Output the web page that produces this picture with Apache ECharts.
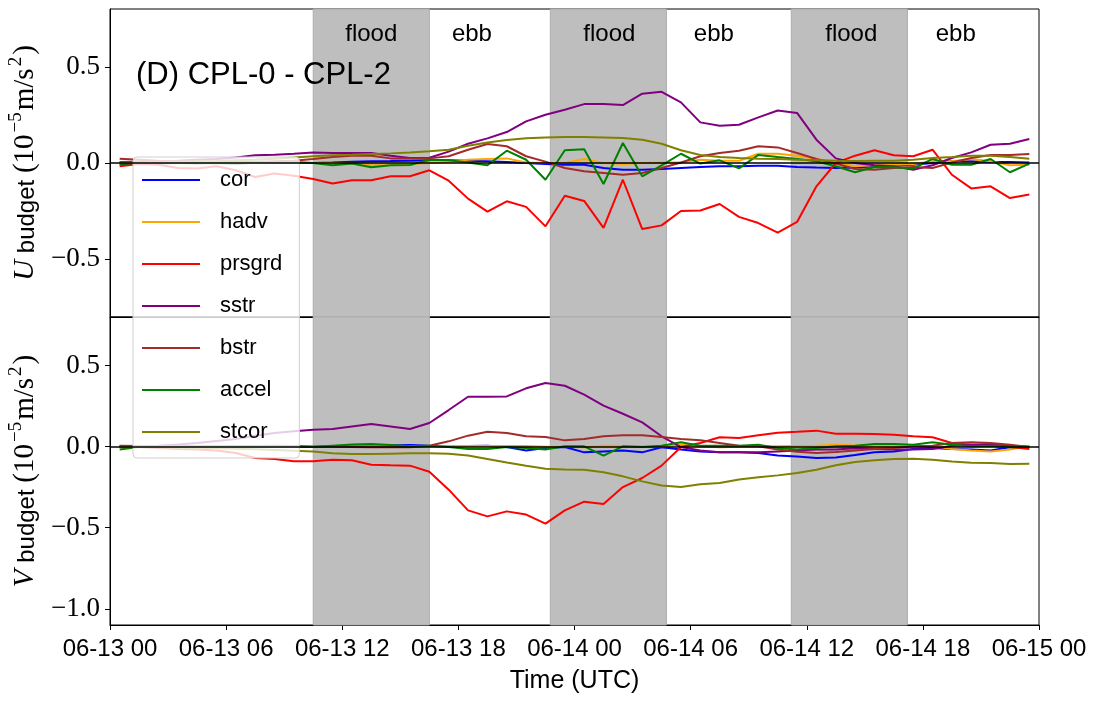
<!DOCTYPE html>
<html>
<head>
<meta charset="utf-8">
<script src="https://cdn.jsdelivr.net/npm/echarts@6.0.0/dist/echarts.min.js"></script>
<style>
  html, body { margin: 0; padding: 0; background: #fff; }
  #chart { width: 1096px; height: 703px; }
</style>
</head>
<body>
<div id="chart"></div>
<script>
// hourly means, hours after 06-13 00 UTC
const times = [0.5, 1.5, 2.5, 3.5, 4.5, 5.5, 6.5, 7.5, 8.5, 9.5, 10.5, 11.5,
  12.5, 13.5, 14.5, 15.5, 16.5, 17.5, 18.5, 19.5, 20.5, 21.5, 22.5, 23.5,
  24.5, 25.5, 26.5, 27.5, 28.5, 29.5, 30.5, 31.5, 32.5, 33.5, 34.5, 35.5,
  36.5, 37.5, 38.5, 39.5, 40.5, 41.5, 42.5, 43.5, 44.5, 45.5, 46.5, 47.5];

const names = ["cor", "hadv", "prsgrd", "sstr", "bstr", "accel", "stcor"];
const colors = ["#0000ff", "#ffa500", "#ff0000", "#800080", "#a52a2a", "#008000", "#808000"];

// U budget (top panel)
const corU = [-0.009,-0.003,-0.002,0,0,0,0,0,0.002,0.002,0.0,0.003,0.007,0.009,0.010,0.012,0.014,0.014,0.012,0.009,0.005,0.0,-0.005,-0.009,-0.009,-0.026,-0.035,-0.035,-0.031,-0.026,-0.021,-0.017,-0.017,-0.014,-0.014,-0.021,-0.024,-0.026,-0.023,-0.017,-0.012,-0.009,0.0,0.009,0.009,0.005,0.005,0.003];
const hadvU = [0.003,0.003,0.003,0.002,0.002,0.003,0.003,0.003,0.002,0.002,0.0,0.0,-0.003,-0.012,-0.010,-0.005,0.0,0.005,0.017,0.021,0.024,0.003,0.0,0.0,0.021,0.0,-0.005,0.0,0.003,0.003,0.017,0.012,0.012,0.048,0.048,0.038,0.021,0.0,-0.017,-0.012,-0.009,-0.005,0.009,0.009,0.021,0.009,-0.012,-0.009];
const prsgrdU = [-0.017,-0.005,-0.009,-0.026,-0.028,-0.017,-0.038,-0.073,-0.055,-0.066,-0.083,-0.107,-0.090,-0.090,-0.069,-0.069,-0.038,-0.092,-0.185,-0.253,-0.199,-0.228,-0.329,-0.170,-0.197,-0.337,-0.087,-0.343,-0.324,-0.249,-0.247,-0.213,-0.280,-0.312,-0.362,-0.306,-0.121,0.0,0.038,0.066,0.040,0.035,0.069,-0.061,-0.132,-0.121,-0.182,-0.164];
const sstrU = [0.005,0.007,0.009,0.012,0.017,0.021,0.029,0.040,0.043,0.048,0.055,0.052,0.052,0.052,0.038,0.026,0.027,0.059,0.100,0.128,0.161,0.216,0.251,0.277,0.306,0.306,0.301,0.360,0.370,0.315,0.211,0.194,0.199,0.237,0.273,0.260,0.121,0.024,0.0,-0.012,-0.017,-0.035,-0.012,0.026,0.055,0.095,0.100,0.125];
const bstrU = [0.022,0.017,0.012,0.009,0.007,0.005,0.005,0.005,0.009,0.012,0.021,0.031,0.038,0.038,0.024,0.024,0.024,0.035,0.069,0.099,0.087,0.035,0.007,-0.026,-0.043,-0.052,-0.061,-0.052,-0.026,0.003,0.035,0.052,0.064,0.087,0.081,0.052,0.021,-0.003,-0.031,-0.035,-0.026,-0.021,-0.026,0.003,0.026,0.042,0.042,0.047];
const accelU = [-0.005,0.0,0.002,0.0,-0.003,0.0,-0.005,0.003,0.002,0.003,0.0,-0.012,-0.003,-0.022,-0.012,-0.010,0.017,0.014,0.003,-0.012,0.064,0.017,-0.087,0.066,0.071,-0.109,0.104,-0.069,-0.012,0.048,-0.003,0.014,-0.028,0.042,0.031,0.021,0.009,-0.017,-0.048,-0.021,-0.022,-0.029,0.021,-0.009,-0.009,0.021,-0.048,-0.003];
const stcorU = [0.003,0.003,0.005,0.007,0.009,0.010,0.014,0.017,0.022,0.028,0.035,0.040,0.043,0.047,0.050,0.055,0.061,0.069,0.090,0.107,0.119,0.128,0.133,0.135,0.135,0.133,0.130,0.121,0.100,0.066,0.042,0.031,0.026,0.022,0.021,0.017,0.016,0.012,0.010,0.012,0.012,0.017,0.026,0.031,0.038,0.038,0.031,0.022];

// V budget (bottom panel)
const corV = [0.0,0.0,0.0,0.0,0.0,0.0,0.0,0.0,0.0,0.0,0.0,0.002,0.004,0.006,0.008,0.010,0.006,0.004,0.004,0.006,-0.002,-0.023,-0.008,-0.002,-0.035,-0.029,-0.023,-0.035,-0.004,-0.018,-0.029,-0.035,-0.035,-0.039,-0.055,-0.060,-0.070,-0.066,-0.051,-0.035,-0.029,-0.014,-0.008,-0.014,-0.018,-0.023,-0.004,0.002];
const hadvV = [0.0,0.0,0.0,0.0,0.0,0.0,0.0,0.0,0.0,0.0,0.0,0.0,0.002,0.002,0.002,0.002,0.002,0.004,0.004,0.004,0.004,0.004,0.0,0.0,-0.004,0.006,0.004,0.002,0.0,0.012,0.002,-0.004,0.0,0.002,0.002,0.004,0.006,0.012,0.008,0.004,0.004,0.004,0.004,-0.014,-0.023,-0.029,-0.018,0.006];
const prsgrdV = [0.002,-0.002,-0.008,-0.014,-0.018,-0.023,-0.039,-0.070,-0.076,-0.090,-0.090,-0.080,-0.084,-0.111,-0.115,-0.117,-0.155,-0.265,-0.393,-0.430,-0.399,-0.419,-0.475,-0.393,-0.339,-0.353,-0.249,-0.193,-0.117,-0.002,0.023,0.058,0.053,0.070,0.086,0.092,0.099,0.080,0.080,0.078,0.074,0.064,0.058,0.023,0.012,0.006,-0.002,-0.014];
const sstrV = [0.002,0.002,0.006,0.014,0.023,0.035,0.047,0.068,0.084,0.095,0.105,0.109,0.125,0.140,0.125,0.109,0.146,0.226,0.308,0.308,0.310,0.360,0.393,0.376,0.321,0.253,0.203,0.150,0.064,-0.002,-0.023,-0.035,-0.035,-0.035,-0.029,-0.023,-0.018,-0.018,-0.010,-0.014,-0.018,-0.018,-0.014,0.006,0.012,0.016,0.006,-0.002];
const bstrV = [0.006,0.004,0.004,0.004,0.002,0.002,0.004,0.004,0.006,0.004,0.0,0.0,-0.002,-0.004,-0.004,-0.004,0.006,0.033,0.068,0.092,0.084,0.064,0.060,0.039,0.047,0.064,0.070,0.070,0.060,0.047,0.039,0.023,0.006,0.002,-0.018,-0.031,-0.039,-0.033,-0.023,-0.014,-0.008,0.002,0.006,0.023,0.027,0.023,0.012,-0.002];
const accelV = [-0.018,-0.002,0.0,0.0,0.0,0.0,0.0,0.0,0.0,0.0,-0.002,0.006,0.014,0.016,0.010,0.002,0.006,-0.002,-0.014,-0.014,-0.002,-0.008,-0.018,0.002,0.002,-0.055,0.002,-0.002,0.006,0.027,0.006,0.006,0.006,0.012,-0.008,-0.018,-0.008,0.002,0.006,0.016,0.016,0.012,0.027,0.012,0.002,0.006,-0.004,-0.002];
const stcorV = [-0.004,-0.002,-0.004,-0.006,-0.008,-0.010,-0.012,-0.016,-0.020,-0.025,-0.030,-0.040,-0.045,-0.045,-0.043,-0.041,-0.040,-0.043,-0.055,-0.076,-0.097,-0.117,-0.136,-0.140,-0.142,-0.158,-0.183,-0.214,-0.240,-0.249,-0.232,-0.224,-0.203,-0.189,-0.177,-0.162,-0.142,-0.115,-0.095,-0.084,-0.076,-0.074,-0.080,-0.092,-0.099,-0.101,-0.107,-0.105];

// tidal phases (hours)
const floodStart = [10.5, 22.75, 35.2];
const floodEnd = [16.5, 28.75, 41.2];
const floodLabelAt = [13.5, 25.8, 38.3];
const ebbLabelAt = [18.7, 31.2, 43.7];

const xTicks = [0, 6, 12, 18, 24, 30, 36, 42, 48];
const uTicks = [-0.5, 0, 0.5];
const vTicks = [-1.0, -0.5, 0, 0.5];

const panelU = [corU, hadvU, prsgrdU, sstrU, bstrU, accelU, stcorU];
const panelV = [corV, hadvV, prsgrdV, sstrV, bstrV, accelV, stcorV];

const chart = echarts.init(document.getElementById("chart"), null, { renderer: "canvas" });

const sans = "Liberation Sans";
const serif = "Liberation Serif";

function fmtX(v) {
  const day = 13 + Math.floor(v / 24);
  const hr = v % 24;
  return "06-" + day + " " + String(hr).padStart(2, "0");
}
function fmtY(v) {
  return (v < 0 ? "\u2212" : "") + Math.abs(v).toFixed(1);
}

const nameRich = {
  i: { fontFamily: serif, fontStyle: "italic", fontSize: 29, lineHeight: 34, verticalAlign: "bottom" },
  b: { fontFamily: sans, fontSize: 24, lineHeight: 34, verticalAlign: "bottom", padding: [0, 0, 1, 0] },
  s: { fontFamily: serif, fontSize: 29, lineHeight: 34, verticalAlign: "bottom" },
  sup: { fontFamily: serif, fontSize: 19, lineHeight: 34, verticalAlign: "top", padding: [0, 2, 0, 2] }
};

function yAxisFor(idx, min, max, ticks, letter) {
  return {
    type: "value",
    gridIndex: idx,
    min: min,
    max: max,
    name: "{i|" + letter + "}{b| budget }{s|(10}{sup|\u22125}{s|m/s}{sup|2}{s|)}",
    nameLocation: "middle",
    nameRotate: 90,
    nameGap: 68,
    nameTextStyle: { color: "#000", rich: nameRich },
    axisLine: { show: true, lineStyle: { color: "#000", width: 1 } },
    axisTick: { show: true, inside: false, length: 5, customValues: ticks, lineStyle: { color: "#000" } },
    axisLabel: {
      customValues: ticks, formatter: fmtY, margin: 10,
      fontFamily: serif, fontSize: 27, color: "#000"
    },
    splitLine: { show: false }
  };
}

function xAxisFor(idx, showLabels) {
  return {
    type: "value",
    gridIndex: idx,
    min: 0,
    max: 48,
    interval: 6,
    name: showLabels ? "Time (UTC)" : "",
    nameLocation: "middle",
    nameGap: 44,
    nameTextStyle: { fontFamily: sans, fontSize: 25, color: "#000" },
    axisLine: { show: true, onZero: false, lineStyle: { color: "#000", width: 1 } },
    axisTick: { show: showLabels, inside: false, length: 5, lineStyle: { color: "#000" } },
    axisLabel: {
      show: showLabels, formatter: fmtX, margin: 12,
      fontFamily: sans, fontSize: 24, color: "#000",
      customValues: xTicks
    },
    splitLine: { show: false }
  };
}

const series = [];
[0, 1].forEach(function (p) {
  series.push({
    name: "bands" + p,
    type: "line",
    xAxisIndex: p,
    yAxisIndex: p,
    data: [],
    z: 1,
    silent: true,
    markArea: {
      silent: true,
      itemStyle: { color: "#bebebe", borderColor: "#adadad", borderWidth: 1 },
      data: floodStart.map(function (s, i) { return [{ xAxis: s }, { xAxis: floodEnd[i] }]; })
    }
  });
  series.push({
    name: "zero" + p,
    type: "line",
    xAxisIndex: p,
    yAxisIndex: p,
    data: [],
    z: 2,
    silent: true,
    markLine: {
      silent: true,
      symbol: "none",
      label: { show: false },
      lineStyle: { color: "#000", width: 1.5, type: "solid" },
      data: [{ yAxis: 0 }]
    }
  });
});

// phase labels in the top panel
const phaseLabels = floodLabelAt.map(function (t) { return { name: "flood", coord: [t, 0.668] }; })
  .concat(ebbLabelAt.map(function (t) { return { name: "ebb", coord: [t, 0.668] }; }));
series.push({
  name: "phases",
  type: "line",
  xAxisIndex: 0,
  yAxisIndex: 0,
  data: [],
  z: 5,
  silent: true,
  markPoint: {
    silent: true,
    symbol: "rect",
    symbolSize: 0,
    label: {
      show: true, position: "inside", formatter: function (p) { return p.name; },
      fontFamily: sans, fontSize: 24, color: "#000"
    },
    data: phaseLabels
  }
});

[panelU, panelV].forEach(function (panel, p) {
  panel.forEach(function (arr, k) {
    series.push({
      name: names[k],
      type: "line",
      xAxisIndex: p,
      yAxisIndex: p,
      data: times.map(function (t, i) { return [t, arr[i]]; }),
      showSymbol: false,
      symbol: "none",
      z: 3,
      lineStyle: { color: colors[k], width: 2 },
      itemStyle: { color: colors[k] }
    });
  });
});

chart.setOption({
  animation: false,
  backgroundColor: "#fff",
  title: {
    text: "(D) CPL-0 - CPL-2",
    left: 131,
    top: 55,
    textStyle: { fontFamily: sans, fontSize: 31, fontWeight: "normal", color: "#000" }
  },
  legend: {
    data: names,
    orient: "vertical",
    left: 133,
    top: 157,
    padding: [12, 17, 15, 9],
    icon: "rect",
    itemWidth: 58,
    itemHeight: 2,
    itemGap: 20,
    selectedMode: false,
    backgroundColor: "rgba(255,255,255,0.8)",
    borderColor: "#d0d0d0",
    borderWidth: 1,
    borderRadius: 4,
    textStyle: { fontFamily: sans, fontSize: 22, lineHeight: 22, color: "#000", padding: [0, 0, 0, 15] }
  },
  grid: [
    { left: 110, top: 9, width: 929, height: 308, show: true, borderColor: "#000", borderWidth: 1, outerBoundsMode: "none" },
    { left: 110, top: 317, width: 929, height: 308, show: true, borderColor: "#000", borderWidth: 1, outerBoundsMode: "none" }
  ],
  xAxis: [xAxisFor(0, false), xAxisFor(1, true)],
  yAxis: [
    yAxisFor(0, -0.8, 0.8, uTicks, "U"),
    yAxisFor(1, -1.1, 0.8, vTicks, "V")
  ],
  series: series
});
</script>
</body>
</html>
